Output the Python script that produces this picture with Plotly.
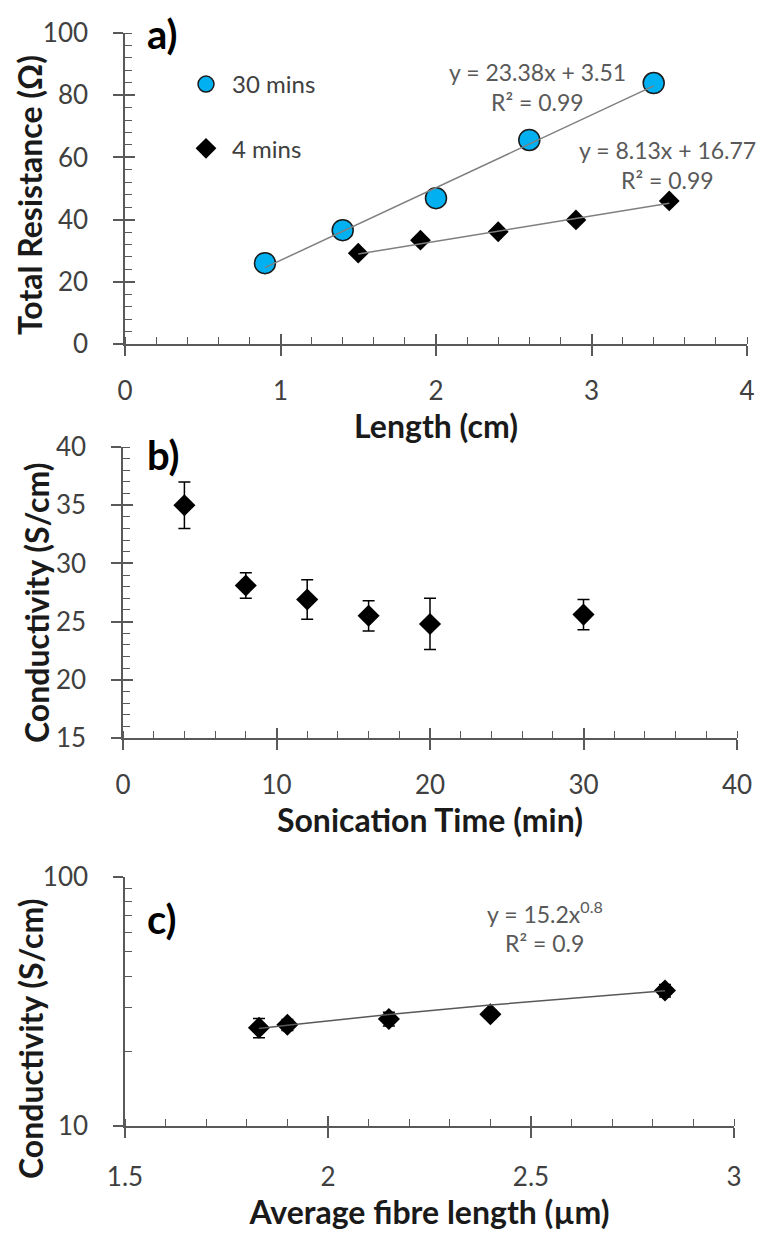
import plotly.graph_objects as go

# ---------------- data ----------------
# panel a
len_30 = [0.9, 1.4, 2.0, 2.6, 3.4]
res_30 = [26.0, 36.6, 46.9, 65.6, 83.9]
len_4 = [1.5, 1.9, 2.4, 2.9, 3.5]
res_4 = [29.2, 33.4, 36.1, 39.9, 46.0]
fit30_slope, fit30_icpt = 23.38, 3.51
fit4_slope, fit4_icpt = 8.13, 16.77

# panel b
son_time = [4, 8, 12, 16, 20, 30]
son_cond = [35.0, 28.1, 26.9, 25.5, 24.8, 25.6]
son_err = [2.0, 1.1, 1.7, 1.3, 2.2, 1.3]

# panel c
fibre_len = [1.83, 1.90, 2.15, 2.40, 2.83]
fibre_cond = [24.8, 25.5, 26.9, 28.1, 35.0]
fibre_err = [2.2, 1.3, 1.7, 1.1, 2.0]
pow_coef, pow_exp = 15.2, 0.8

W, H = 760, 1238
FONT = "Lato"
AX = "#595959"
TICKTXT = "#404040"
TITLE = "#1a1a1a"
NB = "\u00a0"


def px(xp):
    return xp / W


def py(yp):
    return 1 - yp / H


fig = go.Figure()

# ---- panel a ----
fig.add_trace(go.Scatter(x=len_30, y=res_30, mode="markers", name="30 mins",
                         legendgroup="g1",
                         marker=dict(symbol="circle", size=21, color="#00B0F0",
                                     line=dict(color="#1a1a1a", width=1.5)),
                         xaxis="x", yaxis="y"))
fig.add_trace(go.Scatter(x=len_4, y=res_4, mode="markers", name="4 mins",
                         legendgroup="g2",
                         marker=dict(symbol="diamond", size=16, color="black",
                                     line=dict(width=0)),
                         xaxis="x", yaxis="y"))
x30 = [min(len_30), max(len_30)]
fig.add_trace(go.Scatter(x=x30, y=[fit30_slope * v + fit30_icpt for v in x30],
                         mode="lines", line=dict(color="#7f7f7f", width=1.5),
                         showlegend=False, hoverinfo="skip", xaxis="x", yaxis="y"))
x4 = [min(len_4), max(len_4)]
fig.add_trace(go.Scatter(x=x4, y=[fit4_slope * v + fit4_icpt for v in x4],
                         mode="lines", line=dict(color="#7f7f7f", width=1.5),
                         showlegend=False, hoverinfo="skip", xaxis="x", yaxis="y"))

# ---- panel b ----
fig.add_trace(go.Scatter(x=son_time, y=son_cond, mode="markers", showlegend=False,
                         marker=dict(symbol="diamond", size=17, color="black"),
                         error_y=dict(type="data", array=son_err, color="black",
                                      thickness=1.5, width=6),
                         xaxis="x2", yaxis="y2"))

# ---- panel c ----
fig.add_trace(go.Scatter(x=fibre_len, y=fibre_cond, mode="markers", showlegend=False,
                         marker=dict(symbol="diamond", size=17, color="black"),
                         error_y=dict(type="data", array=fibre_err, color="black",
                                      thickness=1.5, width=6),
                         xaxis="x3", yaxis="y3"))
fig.add_trace(go.Scatter(x=fibre_len, y=[pow_coef * v ** pow_exp for v in fibre_len],
                         mode="lines", line=dict(color="#595959", width=1.5),
                         showlegend=False, hoverinfo="skip", xaxis="x3", yaxis="y3"))

# dummy traces for overlay (inside major tick) axes
for i in (4, 5, 6):
    fig.add_trace(go.Scatter(x=[None], y=[None], mode="markers", showlegend=False,
                             hoverinfo="skip", xaxis=f"x{i}", yaxis=f"y{i}"))

tickfont = dict(family=FONT, size=26, color=TICKTXT)
titlefont = dict(family=FONT, size=32, color=TITLE)


def main_axis(domain, rng, dtick, minor_dtick, anchor, title=None, standoff=10,
              typ="linear", tickvals=None, minor_vals=None, lab_standoff=None,
              suffix=""):
    d = dict(domain=domain, range=rng, anchor=anchor, type=typ, automargin=False,
             showline=True, linecolor=AX, linewidth=1.5,
             showgrid=False, zeroline=False,
             ticks="outside", ticklen=10, tickwidth=1.5, tickcolor=AX,
             tickfont=tickfont, ticksuffix=suffix,
             minor=dict(ticks="inside", ticklen=7, tickwidth=1.2, tickcolor=AX,
                        showgrid=False))
    if lab_standoff is not None:
        d["ticklabelstandoff"] = lab_standoff
    if tickvals is None:
        d.update(tick0=rng[0], dtick=dtick)
    else:
        d.update(tickmode="array", tickvals=tickvals,
                 ticktext=[str(v) + suffix for v in tickvals])
    if minor_vals is None:
        d["minor"].update(dtick=minor_dtick, tick0=rng[0])
    else:
        d["minor"].update(tickmode="array", tickvals=minor_vals)
    if title is not None:
        d["title"] = dict(text="<b>" + title + "</b>", font=titlefont, standoff=standoff)
    return d


def overlay_axis(over, anchor, rng, dtick, typ="linear", tickvals=None):
    d = dict(overlaying=over, anchor=anchor, range=rng, type=typ, automargin=False,
             showline=False, showgrid=False, zeroline=False, showticklabels=False,
             ticks="inside", ticklen=10, tickwidth=1.5, tickcolor=AX)
    if tickvals is None:
        d.update(tick0=rng[0], dtick=dtick)
    else:
        d.update(tickmode="array", tickvals=tickvals)
    return d


xa_dom = [px(125), px(747)]
ya_dom = [py(344), py(33)]
xb_dom = [px(123), px(737)]
yb_dom = [py(738), py(447)]
xc_dom = [px(125), px(734)]
yc_dom = [py(1126), py(877)]

ysuf = NB * 3

layout = dict(
    width=W, height=H, margin=dict(l=0, r=0, t=0, b=0, autoexpand=False),
    paper_bgcolor="white", plot_bgcolor="white",
    font=dict(family=FONT, color=TICKTXT),
    xaxis=main_axis(xa_dom, [0, 4], 1, 0.2, "y", "Length (cm)", 0, lab_standoff=13),
    yaxis=main_axis(ya_dom, [0, 100], 20, 4, "x", None, suffix=ysuf),
    xaxis2=main_axis(xb_dom, [0, 40], 10, 2, "y2", "Sonication Time (min)", 10, lab_standoff=13),
    yaxis2=main_axis(yb_dom, [15, 40], 5, 1, "x2", None, suffix=ysuf),
    xaxis3=main_axis(xc_dom, [1.5, 3], 0.5, 0.1, "y3", "Average fibre length (µm)", 10,
                     lab_standoff=17),
    yaxis3=main_axis(yc_dom, [1, 2], None, None, "x3", None, typ="log",
                     tickvals=[10, 100], minor_vals=[20, 30, 40, 50, 60, 70, 80, 90],
                     suffix=ysuf),
    xaxis4=overlay_axis("x", "y4", [0, 4], 1),
    yaxis4=overlay_axis("y", "x4", [0, 100], 20),
    xaxis5=overlay_axis("x2", "y5", [0, 40], 10),
    yaxis5=overlay_axis("y2", "x5", [15, 40], 5),
    xaxis6=overlay_axis("x3", "y6", [1.5, 3], 0.5),
    yaxis6=overlay_axis("y3", "x6", [1, 2], None, typ="log", tickvals=[10, 100]),
    legend=dict(x=px(180), y=py(62), xanchor="left", yanchor="top",
                bgcolor="rgba(0,0,0,0)", itemwidth=42,
                font=dict(family=FONT, size=24, color=TICKTXT),
                tracegroupgap=30, traceorder="grouped"),
)
fig.update_layout(**layout)

annfont = dict(family=FONT, size=23, color="#595959")
anns = [
    dict(text="y = 23.38x + 3.51", x=2.65, y=87.5, xref="x", yref="y"),
    dict(text="R² = 0.99", x=2.65, y=77.8, xref="x", yref="y"),
    dict(text="y = 8.13x + 16.77", x=3.49, y=62.4, xref="x", yref="y"),
    dict(text="R² = 0.99", x=3.49, y=52.7, xref="x", yref="y"),
    dict(text="y = 15.2x<sup>0.8</sup>", x=2.534, y=1.858, xref="x3", yref="y3"),
    dict(text="R² = 0.9", x=2.534, y=1.734, xref="x3", yref="y3"),
]
for a in anns:
    fig.add_annotation(showarrow=False, font=annfont, xanchor="center", yanchor="middle", **a)

labfont = dict(family=FONT, size=40, color="black")
for txt, yy in (("<b>a)</b>", 34), ("<b>b)</b>", 455), ("<b>c)</b>", 919)):
    fig.add_annotation(text=txt, x=px(145), y=py(yy), xref="paper", yref="paper",
                       xanchor="left", yanchor="middle", showarrow=False, font=labfont)

# y-axis titles (placed like the original, not centred on each axis)
for txt, xx, yy in (("Total Resistance (Ω)", 29, 195),
                    ("Conductivity (S/cm)", 37, 603),
                    ("Conductivity (S/cm)", 30, 1039)):
    fig.add_annotation(text="<b>" + txt + "</b>", textangle=-90,
                       x=px(xx), y=py(yy), xref="paper", yref="paper",
                       xanchor="center", yanchor="middle", showarrow=False,
                       font=titlefont)

fig.write_html("out.html")
